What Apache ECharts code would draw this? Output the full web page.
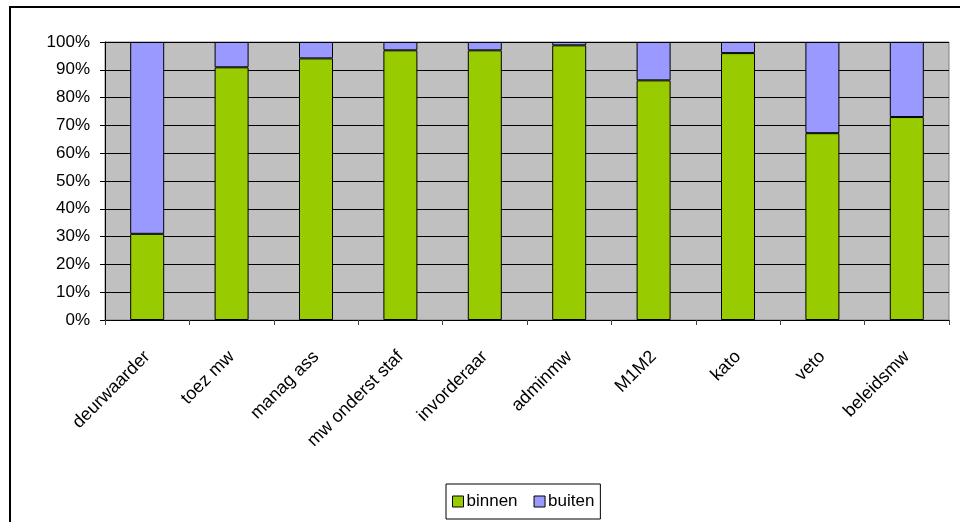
<!DOCTYPE html>
<html>
<head>
<meta charset="utf-8">
<script src="https://cdn.jsdelivr.net/npm/echarts@6/dist/echarts.min.js"></script>
<style>
    html, body { margin: 0; padding: 0; background: #fff; }
    #chart { width: 960px; height: 522px; }
</style>
</head>
<body>
<div id="chart"></div>
<script>
// categories and shares (percent)
var categories = ['deurwaarder', 'toez mw', 'manag ass', 'mw onderst staf', 'invorderaar',
    'adminmw', 'M1M2', 'kato', 'veto', 'beleidsmw'];
var binnen = [31, 90.9, 94.1, 97, 97, 98.8, 86.2, 96, 67.2, 73];
var buiten = [69, 9.1, 5.9, 3, 3, 1.2, 13.8, 4, 32.8, 27];
var seriesNames = ['binnen', 'buiten'];

var font = 'Liberation Sans, Arial, sans-serif';

var option = {
    animation: false,
    backgroundColor: '#ffffff',
    graphic: [
        {
            type: 'rect',
            shape: {x: 10, y: 7, width: 1000, height: 600},
            style: {fill: 'none', stroke: '#000', lineWidth: 2},
            silent: true
        }
    ],
    grid: {
        left: 105,
        right: 11,
        top: 42,
        bottom: 202,
        show: true,
        backgroundColor: '#c0c0c0',
        borderColor: '#808080',
        borderWidth: 1
    },
    legend: {
        data: seriesNames,
        left: 446,
        top: 484,
        padding: [9, 6, 9, 6],
        itemGap: 16,
        itemWidth: 11,
        itemHeight: 11,
        icon: 'rect',
        borderColor: '#000',
        borderWidth: 1,
        itemStyle: {borderColor: '#000', borderWidth: 1},
        textStyle: {fontFamily: font, fontSize: 17, color: '#000', padding: [0, 0, 0, -2]}
    },
    xAxis: {
        type: 'category',
        data: categories,
        axisLine: {lineStyle: {color: '#000', width: 1}},
        axisTick: {show: true, length: 5, interval: 0, lineStyle: {color: '#444'}},
        axisLabel: {
            interval: 0,
            rotate: 45,
            margin: 34,
            fontFamily: font,
            fontSize: 18,
            color: '#000'
        },
        splitLine: {show: false}
    },
    yAxis: {
        type: 'value',
        min: 0,
        max: 100,
        interval: 10,
        axisLine: {show: true, lineStyle: {color: '#000', width: 1}},
        axisTick: {show: true, length: 5, lineStyle: {color: '#000'}},
        axisLabel: {
            formatter: '{value}%',
            margin: 15,
            fontFamily: font,
            fontSize: 17,
            color: '#000'
        },
        splitLine: {show: true, lineStyle: {color: '#000', width: 1}}
    },
    series: [
        {
            name: 'binnen',
            type: 'bar',
            stack: 'total',
            barWidth: 34,
            data: binnen,
            itemStyle: {color: '#99cc00', borderColor: '#000', borderWidth: 1}
        },
        {
            name: 'buiten',
            type: 'bar',
            stack: 'total',
            barWidth: 34,
            data: buiten,
            itemStyle: {color: '#9999ff', borderColor: '#000', borderWidth: 1}
        }
    ]
};

var chart = echarts.init(document.getElementById('chart'));
chart.setOption(option);
</script>
</body>
</html>
